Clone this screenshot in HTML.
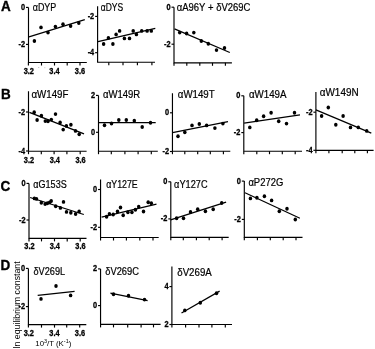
<!DOCTYPE html>
<html><head><meta charset="utf-8"><style>
html,body{margin:0;padding:0;background:#fff;}
svg{display:block;filter:blur(0.35px);}
text{font-family:"Liberation Sans",sans-serif;fill:#000;}
.a{stroke:#000;stroke-width:1.15;fill:none;}
.l{stroke:#000;stroke-width:1.25;fill:none;}
.t{font-size:10.0px;font-kerning:none;stroke:#000;stroke-width:0.2;}
.k{font-size:8.4px;font-weight:bold;stroke:#000;stroke-width:0.3;}
.p{font-size:14.2px;font-weight:bold;stroke:#000;stroke-width:0.35;}
.y{font-size:8.75px;}
.x{font-size:7.8px;}
ellipse{fill:#000;}
</style></head><body>
<svg width="375" height="349" viewBox="0 0 375 349">
<text class="p" transform="translate(1 10.7) scale(0.95 1)">A</text>
<text class="p" transform="translate(0.9 99.2) scale(0.95 1)">B</text>
<text class="p" transform="translate(0.5 190.6) scale(0.95 1)">C</text>
<text class="p" transform="translate(0.6 270.4) scale(0.95 1)">D</text>
<path d="M28.5 7.4V62.5H86.8" class="a"/>
<path d="M26 7.4H28.5" class="a"/>
<text class="k" transform="translate(25.1 9.9) scale(0.88 1)" text-anchor="end">0</text>
<path d="M26 44.4H28.5" class="a"/>
<text class="k" transform="translate(25.1 46.9) scale(0.88 1)" text-anchor="end">-2</text>
<path d="M28.4 62.5v3" class="a"/>
<path d="M41.5 62.5v3" class="a"/>
<path d="M54.5 62.5v3" class="a"/>
<path d="M67.2 62.5v3" class="a"/>
<path d="M80 62.5v3" class="a"/>
<text class="k" transform="translate(28.8 73.5) scale(0.88 1)" text-anchor="middle">3.2</text>
<text class="k" transform="translate(54.5 73.5) scale(0.88 1)" text-anchor="middle">3.4</text>
<text class="k" transform="translate(80 73.5) scale(0.88 1)" text-anchor="middle">3.6</text>
<path d="M29 36.9L84.8 19.6" class="l"/>
<ellipse cx="34.4" cy="41" rx="1.75" ry="1.95"/>
<ellipse cx="41" cy="27.4" rx="1.75" ry="1.95"/>
<ellipse cx="48" cy="32.6" rx="1.75" ry="1.95"/>
<ellipse cx="55.4" cy="26.6" rx="1.75" ry="1.95"/>
<ellipse cx="63" cy="24.2" rx="1.75" ry="1.95"/>
<ellipse cx="70.6" cy="26" rx="1.75" ry="1.95"/>
<ellipse cx="78.8" cy="23" rx="1.75" ry="1.95"/>
<text class="t" x="32.72" y="11.25" textLength="23.55" lengthAdjust="spacingAndGlyphs">αDYP</text>
<path d="M97.6 6.2V62.2H155" class="a"/>
<path d="M95.1 16.4H97.6" class="a"/>
<text class="k" transform="translate(94.2 18.9) scale(0.88 1)" text-anchor="end">-2</text>
<path d="M95.1 52.7H97.6" class="a"/>
<text class="k" transform="translate(94.2 55.2) scale(0.88 1)" text-anchor="end">-4</text>
<path d="M108.8 62.2v3" class="a"/>
<path d="M123 62.2v3" class="a"/>
<path d="M137.4 62.2v3" class="a"/>
<path d="M151.9 62.2v3" class="a"/>
<path d="M98 41.6L155.3 28.3" class="l"/>
<ellipse cx="103.6" cy="44" rx="1.75" ry="1.95"/>
<ellipse cx="108.4" cy="37.9" rx="1.75" ry="1.95"/>
<ellipse cx="112.9" cy="44" rx="1.75" ry="1.95"/>
<ellipse cx="116.1" cy="34.4" rx="1.75" ry="1.95"/>
<ellipse cx="119.6" cy="30.9" rx="1.75" ry="1.95"/>
<ellipse cx="124.4" cy="38.4" rx="1.75" ry="1.95"/>
<ellipse cx="129.5" cy="38.4" rx="1.75" ry="1.95"/>
<ellipse cx="133.2" cy="30.9" rx="1.75" ry="1.95"/>
<ellipse cx="136.4" cy="34.4" rx="1.75" ry="1.95"/>
<ellipse cx="141.7" cy="30.9" rx="1.75" ry="1.95"/>
<ellipse cx="147.1" cy="30.9" rx="1.75" ry="1.95"/>
<ellipse cx="151.3" cy="30.9" rx="1.75" ry="1.95"/>
<text class="t" x="100.84" y="11.15" textLength="22.35" lengthAdjust="spacingAndGlyphs">αDYS</text>
<path d="M174 7.2V62.8H231.9" class="a"/>
<path d="M171.5 7.2H174" class="a"/>
<text class="k" transform="translate(170.6 9.7) scale(0.88 1)" text-anchor="end">0</text>
<path d="M171.5 44.2H174" class="a"/>
<text class="k" transform="translate(170.6 46.7) scale(0.88 1)" text-anchor="end">-2</text>
<path d="M174 62.8v3" class="a"/>
<path d="M186.8 62.8v3" class="a"/>
<path d="M199.8 62.8v3" class="a"/>
<path d="M212.5 62.8v3" class="a"/>
<path d="M225.4 62.8v3" class="a"/>
<path d="M174.5 28.9L229.8 52.5" class="l"/>
<ellipse cx="179.7" cy="32.6" rx="1.75" ry="1.95"/>
<ellipse cx="186.6" cy="33.5" rx="1.75" ry="1.95"/>
<ellipse cx="193.8" cy="32.6" rx="1.75" ry="1.95"/>
<ellipse cx="201.3" cy="41" rx="1.75" ry="1.95"/>
<ellipse cx="208.3" cy="43.7" rx="1.75" ry="1.95"/>
<ellipse cx="216.5" cy="50.1" rx="1.75" ry="1.95"/>
<ellipse cx="224.5" cy="48" rx="1.75" ry="1.95"/>
<text class="t" x="176.8" y="11.05" textLength="73.56" lengthAdjust="spacingAndGlyphs">αA96Y + δV269C</text>
<path d="M28.5 91.3V151.2H86.6" class="a"/>
<path d="M26 112H28.5" class="a"/>
<text class="k" transform="translate(25.1 114.5) scale(0.88 1)" text-anchor="end">-2</text>
<path d="M26 151H28.5" class="a"/>
<text class="k" transform="translate(25.1 153.5) scale(0.88 1)" text-anchor="end">-4</text>
<path d="M28.5 151.2v3" class="a"/>
<path d="M41.3 151.2v3" class="a"/>
<path d="M54.1 151.2v3" class="a"/>
<path d="M66.9 151.2v3" class="a"/>
<path d="M80.2 151.2v3" class="a"/>
<text class="k" transform="translate(29 162.8) scale(0.88 1)" text-anchor="middle">3.2</text>
<text class="k" transform="translate(54.8 162.8) scale(0.88 1)" text-anchor="middle">3.4</text>
<text class="k" transform="translate(80.6 162.8) scale(0.88 1)" text-anchor="middle">3.6</text>
<path d="M29.4 112.3L84 133.8" class="l"/>
<ellipse cx="34.2" cy="112.3" rx="1.75" ry="1.95"/>
<ellipse cx="37.1" cy="120" rx="1.75" ry="1.95"/>
<ellipse cx="41.4" cy="115.7" rx="1.75" ry="1.95"/>
<ellipse cx="45.3" cy="121.1" rx="1.75" ry="1.95"/>
<ellipse cx="48" cy="121.3" rx="1.75" ry="1.95"/>
<ellipse cx="51.3" cy="119.6" rx="1.75" ry="1.95"/>
<ellipse cx="55.5" cy="114.1" rx="1.75" ry="1.95"/>
<ellipse cx="60.1" cy="122.5" rx="1.75" ry="1.95"/>
<ellipse cx="63.2" cy="129.6" rx="1.75" ry="1.95"/>
<ellipse cx="66.4" cy="125.9" rx="1.75" ry="1.95"/>
<ellipse cx="70.9" cy="124.7" rx="1.75" ry="1.95"/>
<ellipse cx="75.5" cy="130.9" rx="1.75" ry="1.95"/>
<ellipse cx="79.2" cy="134.3" rx="1.75" ry="1.95"/>
<text class="t" x="31.49" y="97.85" textLength="37" lengthAdjust="spacingAndGlyphs">αW149F</text>
<path d="M98.5 95.4V151.2H157.8" class="a"/>
<path d="M96 95.4H98.5" class="a"/>
<text class="k" transform="translate(95.1 97.9) scale(0.88 1)" text-anchor="end">2</text>
<path d="M96 132.3H98.5" class="a"/>
<text class="k" transform="translate(95.1 134.8) scale(0.88 1)" text-anchor="end">0</text>
<path d="M98.5 151.2v3" class="a"/>
<path d="M111.3 151.2v3" class="a"/>
<path d="M124.9 151.2v3" class="a"/>
<path d="M138.1 151.2v3" class="a"/>
<path d="M151.3 151.2v3" class="a"/>
<path d="M98.8 122.7L155.7 122.7" class="l"/>
<ellipse cx="104.5" cy="125.3" rx="1.75" ry="1.95"/>
<ellipse cx="111.5" cy="123.5" rx="1.75" ry="1.95"/>
<ellipse cx="118.8" cy="120" rx="1.75" ry="1.95"/>
<ellipse cx="126.3" cy="120" rx="1.75" ry="1.95"/>
<ellipse cx="134.3" cy="120.7" rx="1.75" ry="1.95"/>
<ellipse cx="142.2" cy="127" rx="1.75" ry="1.95"/>
<ellipse cx="150.5" cy="122.7" rx="1.75" ry="1.95"/>
<text class="t" x="102.9" y="98.35" textLength="37.34" lengthAdjust="spacingAndGlyphs">αW149R</text>
<path d="M172.45 93.3V151.2H230.3" class="a"/>
<path d="M169.95 112.8H172.45" class="a"/>
<text class="k" transform="translate(169.05 115.3) scale(0.88 1)" text-anchor="end">0</text>
<path d="M169.95 151.5H172.45" class="a"/>
<text class="k" transform="translate(169.05 154) scale(0.88 1)" text-anchor="end">-2</text>
<path d="M172.45 151.2v3" class="a"/>
<path d="M184.8 151.2v3" class="a"/>
<path d="M197.7 151.2v3" class="a"/>
<path d="M210.3 151.2v3" class="a"/>
<path d="M223.4 151.2v3" class="a"/>
<path d="M172.5 132.7L228 121.7" class="l"/>
<ellipse cx="178" cy="136.2" rx="1.75" ry="1.95"/>
<ellipse cx="184.8" cy="132.3" rx="1.75" ry="1.95"/>
<ellipse cx="192" cy="125.4" rx="1.75" ry="1.95"/>
<ellipse cx="199.3" cy="124" rx="1.75" ry="1.95"/>
<ellipse cx="206.6" cy="125.4" rx="1.75" ry="1.95"/>
<ellipse cx="214.9" cy="128.1" rx="1.75" ry="1.95"/>
<ellipse cx="222.9" cy="123.6" rx="1.75" ry="1.95"/>
<text class="t" x="177.79" y="97.55" textLength="36.93" lengthAdjust="spacingAndGlyphs">αW149T</text>
<path d="M243.8 95.8V151.2H302" class="a"/>
<path d="M241.3 95.8H243.8" class="a"/>
<text class="k" transform="translate(240.4 98.3) scale(0.88 1)" text-anchor="end">0</text>
<path d="M241.3 132.6H243.8" class="a"/>
<text class="k" transform="translate(240.4 135.1) scale(0.88 1)" text-anchor="end">-2</text>
<path d="M243.8 151.2v3" class="a"/>
<path d="M256.8 151.2v3" class="a"/>
<path d="M269.5 151.2v3" class="a"/>
<path d="M282.3 151.2v3" class="a"/>
<path d="M295.2 151.2v3" class="a"/>
<path d="M244.1 123.1L300 114.8" class="l"/>
<ellipse cx="249.8" cy="127.4" rx="1.75" ry="1.95"/>
<ellipse cx="256.7" cy="120.3" rx="1.75" ry="1.95"/>
<ellipse cx="263.6" cy="116.2" rx="1.75" ry="1.95"/>
<ellipse cx="271.1" cy="112.8" rx="1.75" ry="1.95"/>
<ellipse cx="278.7" cy="121.3" rx="1.75" ry="1.95"/>
<ellipse cx="286.5" cy="123.6" rx="1.75" ry="1.95"/>
<ellipse cx="294.5" cy="112.8" rx="1.75" ry="1.95"/>
<text class="t" x="248.89" y="98.35" textLength="37.63" lengthAdjust="spacingAndGlyphs">αW149A</text>
<path d="M315.9 92.1V150.3H373.6" class="a"/>
<path d="M313.4 112.2H315.9" class="a"/>
<text class="k" transform="translate(312.5 114.7) scale(0.88 1)" text-anchor="end">-2</text>
<path d="M313.4 150.3H315.9" class="a"/>
<text class="k" transform="translate(312.5 152.8) scale(0.88 1)" text-anchor="end">-4</text>
<path d="M315.9 150.3v3" class="a"/>
<path d="M328.9 150.3v3" class="a"/>
<path d="M342.2 150.3v3" class="a"/>
<path d="M354.8 150.3v3" class="a"/>
<path d="M367.4 150.3v3" class="a"/>
<path d="M315.9 109.8L371.3 133.2" class="l"/>
<ellipse cx="321.6" cy="116" rx="1.75" ry="1.95"/>
<ellipse cx="328.3" cy="107.5" rx="1.75" ry="1.95"/>
<ellipse cx="335.8" cy="124.7" rx="1.75" ry="1.95"/>
<ellipse cx="343.1" cy="116" rx="1.75" ry="1.95"/>
<ellipse cx="350.5" cy="127.4" rx="1.75" ry="1.95"/>
<ellipse cx="358.3" cy="127.4" rx="1.75" ry="1.95"/>
<ellipse cx="366.7" cy="130.9" rx="1.75" ry="1.95"/>
<text class="t" x="319.78" y="95.65" textLength="38.83" lengthAdjust="spacingAndGlyphs">αW149N</text>
<path d="M29 183.4V238.4H86.5" class="a"/>
<path d="M26.5 183.4H29" class="a"/>
<text class="k" transform="translate(25.6 185.9) scale(0.88 1)" text-anchor="end">0</text>
<path d="M26.5 220H29" class="a"/>
<text class="k" transform="translate(25.6 222.5) scale(0.88 1)" text-anchor="end">-2</text>
<path d="M29 238.4v3" class="a"/>
<path d="M41.5 238.4v3" class="a"/>
<path d="M54.5 238.4v3" class="a"/>
<path d="M67.2 238.4v3" class="a"/>
<path d="M80.2 238.4v3" class="a"/>
<text class="k" transform="translate(29.5 249.4) scale(0.88 1)" text-anchor="middle">3.2</text>
<text class="k" transform="translate(54.8 249.4) scale(0.88 1)" text-anchor="middle">3.4</text>
<text class="k" transform="translate(80.5 249.4) scale(0.88 1)" text-anchor="middle">3.6</text>
<path d="M30.1 197.5L83.8 214.5" class="l"/>
<ellipse cx="34.4" cy="198.4" rx="1.75" ry="1.95"/>
<ellipse cx="36.5" cy="198.9" rx="1.75" ry="1.95"/>
<ellipse cx="41.3" cy="202.7" rx="1.75" ry="1.95"/>
<ellipse cx="45.1" cy="204.1" rx="1.75" ry="1.95"/>
<ellipse cx="47.4" cy="203.2" rx="1.75" ry="1.95"/>
<ellipse cx="49.6" cy="202.4" rx="1.75" ry="1.95"/>
<ellipse cx="51.2" cy="201" rx="1.75" ry="1.95"/>
<ellipse cx="55.7" cy="206.2" rx="1.75" ry="1.95"/>
<ellipse cx="60.4" cy="207.9" rx="1.75" ry="1.95"/>
<ellipse cx="63.5" cy="201.9" rx="1.75" ry="1.95"/>
<ellipse cx="66.5" cy="211.9" rx="1.75" ry="1.95"/>
<ellipse cx="70.8" cy="212.8" rx="1.75" ry="1.95"/>
<ellipse cx="75.6" cy="214" rx="1.75" ry="1.95"/>
<ellipse cx="79.1" cy="211.4" rx="1.75" ry="1.95"/>
<text class="t" x="33.32" y="187.85" textLength="33.4" lengthAdjust="spacingAndGlyphs">αG153S</text>
<path d="M100.55 179.4V237.5H158.7" class="a"/>
<path d="M98.05 189.5H100.55" class="a"/>
<text class="k" transform="translate(97.15 192) scale(0.88 1)" text-anchor="end">0</text>
<path d="M98.05 227.3H100.55" class="a"/>
<text class="k" transform="translate(97.15 229.8) scale(0.88 1)" text-anchor="end">-2</text>
<path d="M100.55 237.5v3" class="a"/>
<path d="M113.5 237.5v3" class="a"/>
<path d="M126.4 237.5v3" class="a"/>
<path d="M139.8 237.5v3" class="a"/>
<path d="M153 237.5v3" class="a"/>
<path d="M101.6 217.1L156.5 204.1" class="l"/>
<ellipse cx="106.6" cy="216.7" rx="1.75" ry="1.95"/>
<ellipse cx="109.4" cy="213.9" rx="1.75" ry="1.95"/>
<ellipse cx="113.2" cy="214.5" rx="1.75" ry="1.95"/>
<ellipse cx="117.5" cy="211.5" rx="1.75" ry="1.95"/>
<ellipse cx="120.5" cy="207.5" rx="1.75" ry="1.95"/>
<ellipse cx="123.2" cy="215.3" rx="1.75" ry="1.95"/>
<ellipse cx="127.9" cy="212.2" rx="1.75" ry="1.95"/>
<ellipse cx="131.9" cy="212.2" rx="1.75" ry="1.95"/>
<ellipse cx="135.4" cy="209.8" rx="1.75" ry="1.95"/>
<ellipse cx="138.7" cy="206.7" rx="1.75" ry="1.95"/>
<ellipse cx="143.5" cy="211.5" rx="1.75" ry="1.95"/>
<ellipse cx="148.2" cy="202.3" rx="1.75" ry="1.95"/>
<ellipse cx="151.3" cy="203.2" rx="1.75" ry="1.95"/>
<text class="t" x="106.13" y="187.65" textLength="31.65" lengthAdjust="spacingAndGlyphs">αY127E</text>
<path d="M170.8 181.8V237.3H228.7" class="a"/>
<path d="M168.3 181.8H170.8" class="a"/>
<text class="k" transform="translate(167.4 184.3) scale(0.88 1)" text-anchor="end">0</text>
<path d="M168.3 218.9H170.8" class="a"/>
<text class="k" transform="translate(167.4 221.4) scale(0.88 1)" text-anchor="end">-2</text>
<path d="M170.8 237.3v3" class="a"/>
<path d="M183.3 237.3v3" class="a"/>
<path d="M196.4 237.3v3" class="a"/>
<path d="M209.2 237.3v3" class="a"/>
<path d="M222.1 237.3v3" class="a"/>
<path d="M170.6 219.8L226.1 202.2" class="l"/>
<ellipse cx="176.6" cy="218.2" rx="1.75" ry="1.95"/>
<ellipse cx="183.5" cy="218.2" rx="1.75" ry="1.95"/>
<ellipse cx="190.5" cy="212" rx="1.75" ry="1.95"/>
<ellipse cx="197.7" cy="209.2" rx="1.75" ry="1.95"/>
<ellipse cx="205.4" cy="211.3" rx="1.75" ry="1.95"/>
<ellipse cx="213.2" cy="209.2" rx="1.75" ry="1.95"/>
<ellipse cx="221.7" cy="203" rx="1.75" ry="1.95"/>
<text class="t" x="174.11" y="187.85" textLength="33.44" lengthAdjust="spacingAndGlyphs">αY127C</text>
<path d="M244.3 181.1V237.3H302.5" class="a"/>
<path d="M241.8 181.1H244.3" class="a"/>
<text class="k" transform="translate(240.9 183.6) scale(0.88 1)" text-anchor="end">0</text>
<path d="M241.8 219.4H244.3" class="a"/>
<text class="k" transform="translate(240.9 221.9) scale(0.88 1)" text-anchor="end">-2</text>
<path d="M244.3 237.3v3" class="a"/>
<path d="M257.4 237.3v3" class="a"/>
<path d="M270.3 237.3v3" class="a"/>
<path d="M283.2 237.3v3" class="a"/>
<path d="M296 237.3v3" class="a"/>
<path d="M245 192.7L299.9 218.2" class="l"/>
<ellipse cx="250.4" cy="198.4" rx="1.75" ry="1.95"/>
<ellipse cx="256.9" cy="197.8" rx="1.75" ry="1.95"/>
<ellipse cx="264.4" cy="196.3" rx="1.75" ry="1.95"/>
<ellipse cx="271.6" cy="200.4" rx="1.75" ry="1.95"/>
<ellipse cx="279.3" cy="211.3" rx="1.75" ry="1.95"/>
<ellipse cx="287" cy="208.7" rx="1.75" ry="1.95"/>
<ellipse cx="295.3" cy="219.5" rx="1.75" ry="1.95"/>
<text class="t" x="248.4" y="186.35" textLength="34.9" lengthAdjust="spacingAndGlyphs">αP272G</text>
<path d="M28.4 268.4V324.6H86.3" class="a"/>
<path d="M25.9 268.4H28.4" class="a"/>
<text class="k" transform="translate(25 270.9) scale(0.88 1)" text-anchor="end">0</text>
<path d="M25.9 306.6H28.4" class="a"/>
<text class="k" transform="translate(25 309.1) scale(0.88 1)" text-anchor="end">-2</text>
<path d="M28.4 324.6v3" class="a"/>
<path d="M41.5 324.6v3" class="a"/>
<path d="M54.5 324.6v3" class="a"/>
<path d="M66.7 324.6v3" class="a"/>
<path d="M79.7 324.6v3" class="a"/>
<text class="k" transform="translate(28.8 336.4) scale(0.88 1)" text-anchor="middle">3.2</text>
<text class="k" transform="translate(54.5 336.4) scale(0.88 1)" text-anchor="middle">3.4</text>
<text class="k" transform="translate(80 336.4) scale(0.88 1)" text-anchor="middle">3.6</text>
<path d="M37.7 295.4L74.6 291.4" class="l"/>
<ellipse cx="41" cy="298.9" rx="1.75" ry="1.95"/>
<ellipse cx="56" cy="286" rx="1.75" ry="1.95"/>
<ellipse cx="70.6" cy="295.4" rx="1.75" ry="1.95"/>
<text class="t" x="33.52" y="274.85" textLength="31.59" lengthAdjust="spacingAndGlyphs">δV269L</text>
<path d="M100.55 268.9V324.4H160.6" class="a"/>
<path d="M98.05 268.9H100.55" class="a"/>
<text class="k" transform="translate(97.15 271.4) scale(0.88 1)" text-anchor="end">2</text>
<path d="M98.05 305.6H100.55" class="a"/>
<text class="k" transform="translate(97.15 308.1) scale(0.88 1)" text-anchor="end">0</text>
<path d="M100.55 324.4v3" class="a"/>
<path d="M113.5 324.4v3" class="a"/>
<path d="M127.7 324.4v3" class="a"/>
<path d="M141.1 324.4v3" class="a"/>
<path d="M153.5 324.4v3" class="a"/>
<path d="M110.4 293.2L147.6 300.6" class="l"/>
<ellipse cx="113.5" cy="294.2" rx="1.75" ry="1.95"/>
<ellipse cx="128.5" cy="295.7" rx="1.75" ry="1.95"/>
<ellipse cx="144.5" cy="299.6" rx="1.75" ry="1.95"/>
<text class="t" x="105.31" y="275.15" textLength="33.65" lengthAdjust="spacingAndGlyphs">δV269C</text>
<path d="M171.9 266.6V324.5H232" class="a"/>
<path d="M169.4 286.6H171.9" class="a"/>
<text class="k" transform="translate(168.5 289.1) scale(0.88 1)" text-anchor="end">4</text>
<path d="M169.4 324.5H171.9" class="a"/>
<text class="k" transform="translate(168.5 327) scale(0.88 1)" text-anchor="end">2</text>
<path d="M171.9 324.5v3" class="a"/>
<path d="M185.6 324.5v3" class="a"/>
<path d="M199 324.5v3" class="a"/>
<path d="M211.9 324.5v3" class="a"/>
<path d="M225.3 324.5v3" class="a"/>
<path d="M181.5 313L219.6 291.1" class="l"/>
<ellipse cx="184.8" cy="310.4" rx="1.75" ry="1.95"/>
<ellipse cx="200.3" cy="302.7" rx="1.75" ry="1.95"/>
<ellipse cx="216.5" cy="293.2" rx="1.75" ry="1.95"/>
<text class="t" x="177.29" y="276.15" textLength="34.43" lengthAdjust="spacingAndGlyphs">δV269A</text>

<rect x="38.3" y="67" width="0.9" height="0.9" fill="#aaa"/>
<rect x="44.4" y="67.3" width="0.9" height="0.9" fill="#bbb"/>
<text class="y" transform="translate(19.8 348.4) rotate(-90)">ln equilibrium constant</text>
<text class="x" x="35.3" y="346.2">10<tspan font-size="5.5" dy="-3">3</tspan><tspan dy="3">/T (K</tspan><tspan font-size="5.5" dy="-3">-1</tspan><tspan dy="3">)</tspan></text>

</svg>
</body></html>
